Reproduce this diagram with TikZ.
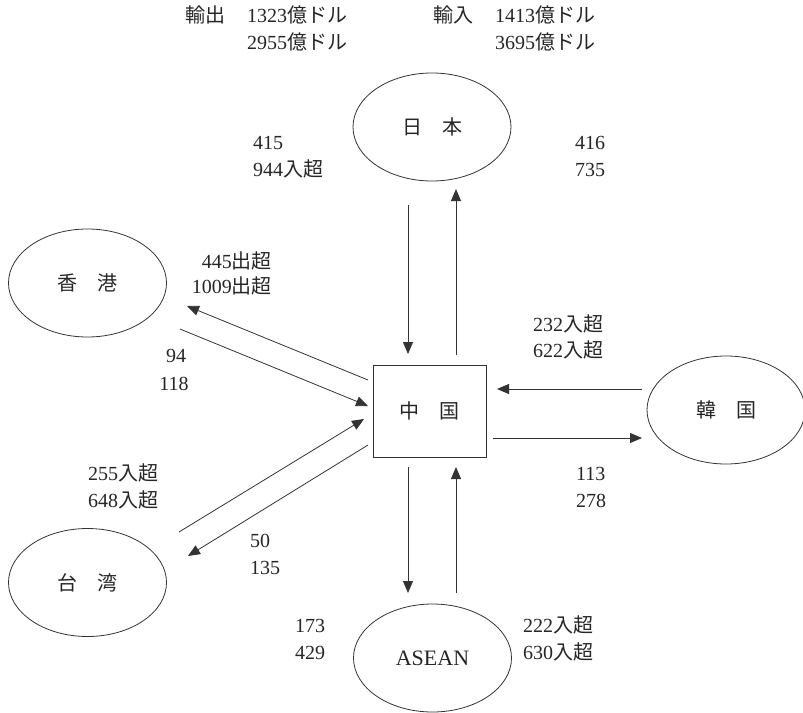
\documentclass[tikz,border=0pt]{standalone}
\usepackage{fontspec}
\setmainfont{Liberation Serif}
\newfontfamily\cjk{Noto Sans CJK JP}
\usetikzlibrary{arrows.meta,shapes.geometric}
\newcommand{\J}[1]{{\cjk #1}}
\begin{document}
\begin{tikzpicture}[x=1pt,y=-1pt,
  every node/.style={text=black!85},
  region/.style={draw=black!80,line width=0.8pt,ellipse,minimum width=158pt,minimum height=108pt,inner sep=0pt,font=\fontsize{20}{24}\selectfont},
  centerbox/.style={draw=black!80,line width=0.9pt,rectangle,minimum width=113pt,minimum height=92pt,inner sep=0pt,font=\fontsize{20}{24}\selectfont},
  flow/.style={draw=black!80,line width=0.8pt,-{Triangle[length=12pt,width=10pt]}},
  lbl/.style={inner sep=0pt,font=\fontsize{20}{24}\selectfont},
]
\useasboundingbox (0,0) rectangle (803,712);

% regions
\node[region] (jp) at (432,127) {\J{日　本}};
\node[region] (hk) at (87.5,283) {\J{香　港}};
\node[region] (tw) at (87.5,582.5) {\J{台　湾}};
\node[region] (kr) at (726,410) {\J{韓　国}};
\node[region,font=\fontsize{22}{26}\selectfont] (as) at (432.5,658) {ASEAN};
\node[centerbox] (cn) at (429.5,411) {\J{中　国}};

% arrow end points
\coordinate (jpA) at (408,205); \coordinate (jpB) at (408,354);
\coordinate (jpC) at (456,355); \coordinate (jpD) at (456,189);
\coordinate (krA) at (642,389); \coordinate (krB) at (497,389);
\coordinate (krC) at (493,438); \coordinate (krD) at (642,438);
\coordinate (asA) at (408,467); \coordinate (asB) at (408,593);
\coordinate (asC) at (456,593); \coordinate (asD) at (456,467);
\coordinate (hkA) at (368,380); \coordinate (hkB) at (187,306);
\coordinate (hkC) at (180,329); \coordinate (hkD) at (368,406);
\coordinate (twA) at (179,532); \coordinate (twB) at (364,419);
\coordinate (twC) at (368,445); \coordinate (twD) at (188,556);

\draw[flow] (jpA) -- (jpB);
\draw[flow] (jpC) -- (jpD);
\draw[flow] (krA) -- (krB);
\draw[flow] (krC) -- (krD);
\draw[flow] (asA) -- (asB);
\draw[flow] (asC) -- (asD);
\draw[flow] (hkA) -- (hkB);
\draw[flow] (hkC) -- (hkD);
\draw[flow] (twA) -- (twB);
\draw[flow] (twC) -- (twD);

% top totals
\node[lbl,anchor=base west] (ex) at (185,22) {\J{輸出}};
\node[lbl,anchor=base west] (ex1) at (247,22) {1323\J{億ドル}};
\node[lbl,anchor=base west] (ex2) at (247,49) {2955\J{億ドル}};
\node[lbl,anchor=base west] (im) at (433,22) {\J{輸入}};
\node[lbl,anchor=base west] (im1) at (495,22) {1413\J{億ドル}};
\node[lbl,anchor=base west] (im2) at (495,49) {3695\J{億ドル}};

% Japan
\node[lbl,anchor=base west] (j1) at (253,149) {415};
\node[lbl,anchor=base west] (j2) at (253,176) {944\J{入超}};
\node[lbl,anchor=base west] (j3) at (575,149) {416};
\node[lbl,anchor=base west] (j4) at (575,176) {735};

% Hong Kong
\node[lbl,anchor=base east] (h1) at (272,268) {445\J{出超}};
\node[lbl,anchor=base east] (h2) at (272,293) {1009\J{出超}};
\node[lbl,anchor=base] (h3) at (176,362) {94};
\node[lbl,anchor=base] (h4) at (174,390) {118};

% Korea
\node[lbl,anchor=base west] (k1) at (533,331) {232\J{入超}};
\node[lbl,anchor=base west] (k2) at (533,357) {622\J{入超}};
\node[lbl,anchor=base west] (k3) at (576,480) {113};
\node[lbl,anchor=base west] (k4) at (576,507) {278};

% Taiwan
\node[lbl,anchor=base west] (t1) at (88,480) {255\J{入超}};
\node[lbl,anchor=base west] (t2) at (88,507) {648\J{入超}};
\node[lbl,anchor=base west] (t3) at (250,547) {50};
\node[lbl,anchor=base west] (t4) at (250,574) {135};

% ASEAN
\node[lbl,anchor=base west] (a1) at (295,632) {173};
\node[lbl,anchor=base west] (a2) at (295,659) {429};
\node[lbl,anchor=base west] (a3) at (523,632) {222\J{入超}};
\node[lbl,anchor=base west] (a4) at (523,659) {630\J{入超}};
\end{tikzpicture}
\end{document}
